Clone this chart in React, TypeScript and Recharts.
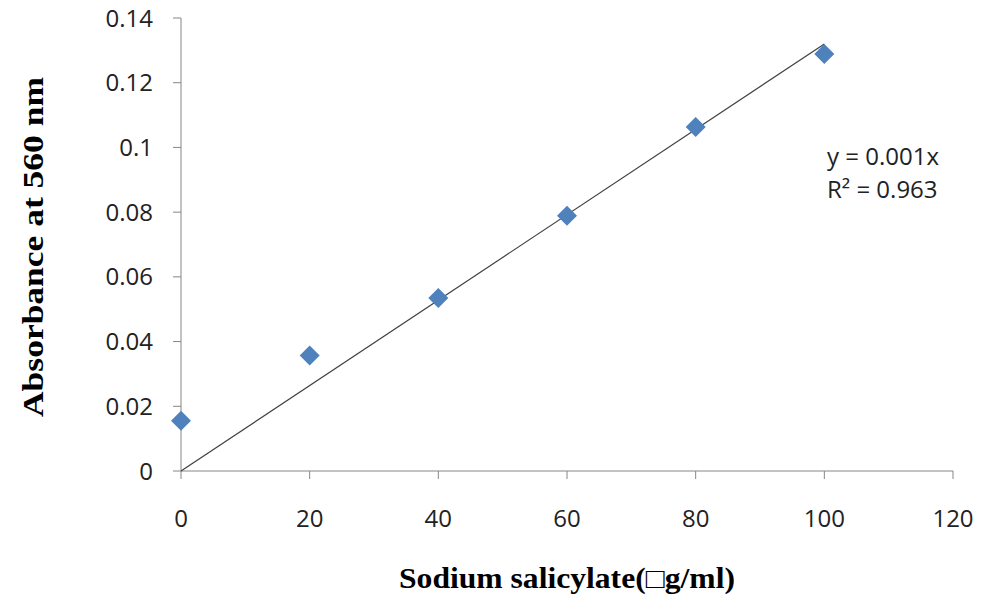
import React from "react";
import { ScatterChart, Scatter, XAxis, YAxis, Label } from "recharts";

const concentrations = [0, 20, 40, 60, 80, 100];
const absorbance = [0.0155, 0.0357, 0.0535, 0.0789, 0.1063, 0.1289];
const trendX = [0, 100];
const trendY = [0, 0.132];
const xTicks = [0, 20, 40, 60, 80, 100, 120];
const yTicks = [0, 0.02, 0.04, 0.06, 0.08, 0.1, 0.12, 0.14];

const points = concentrations.map((x, i) => ({ x, y: absorbance[i] }));
const trend = trendX.map((x, i) => ({ x, y: trendY[i] }));

const axisColor = "#868686";
const tickFont = { fontFamily: "'Open Sans', sans-serif", fontSize: 24, fill: "#222" };
const titleFont = "'Liberation Serif', 'Times New Roman', serif";

const Diamond = (props: any) => {
  const { cx, cy } = props;
  if (cx == null || cy == null) return <g />;
  const r = 10;
  return (
    <polygon
      points={`${cx},${cy - r} ${cx + r},${cy} ${cx},${cy + r} ${cx - r},${cy}`}
      fill="#4F81BD"
    />
  );
};

export default function App() {
  return (
    <div style={{ position: "absolute", left: 0, top: 0, width: 982, height: 600, background: "#fff" }}>
      <ScatterChart width={982} height={600} margin={{ top: 18, right: 29, bottom: 0, left: 0 }}>
        <XAxis
          type="number"
          dataKey="x"
          domain={[0, 120]}
          ticks={xTicks}
          height={129}
          stroke={axisColor}
          tickSize={8}
          tickMargin={31}
          tick={tickFont}
        >
          <Label
            content={(p: any) => (
              <text
                x={567}
                y={588}
                textAnchor="middle"
                fontFamily={titleFont}
                fontWeight="bold"
                fontSize={29}
                fill="#000"
                textLength={336}
                lengthAdjust="spacingAndGlyphs"
              >
                Sodium salicylate(□g/ml)
              </text>
            )}
          />
        </XAxis>
        <YAxis
          type="number"
          dataKey="y"
          domain={[0, 0.14]}
          ticks={yTicks}
          width={181}
          stroke={axisColor}
          tickSize={8}
          tickMargin={20}
          tick={tickFont}
        >
          <Label
            content={(p: any) => (
              <text
                x={0}
                y={0}
                transform="translate(43,247) rotate(-90)"
                textAnchor="middle"
                fontFamily={titleFont}
                fontWeight="bold"
                fontSize={30}
                fill="#000"
                textLength={340}
                lengthAdjust="spacingAndGlyphs"
              >
                Absorbance at 560 nm
              </text>
            )}
          />
        </YAxis>
        <Scatter
          data={trend}
          line={{ stroke: "#404040", strokeWidth: 1.2 }}
          shape={() => <g />}
          isAnimationActive={false}
        />
        <Scatter data={points} shape={Diamond} isAnimationActive={false} />
      </ScatterChart>
      <div
        style={{
          position: "absolute",
          left: 827,
          top: 139,
          fontFamily: "'Open Sans', sans-serif",
          fontSize: 24,
          lineHeight: "33px",
          color: "#222",
          whiteSpace: "nowrap",
        }}
      >
        <div>y = 0.001x</div>
        <div>R² = 0.963</div>
      </div>
    </div>
  );
}
